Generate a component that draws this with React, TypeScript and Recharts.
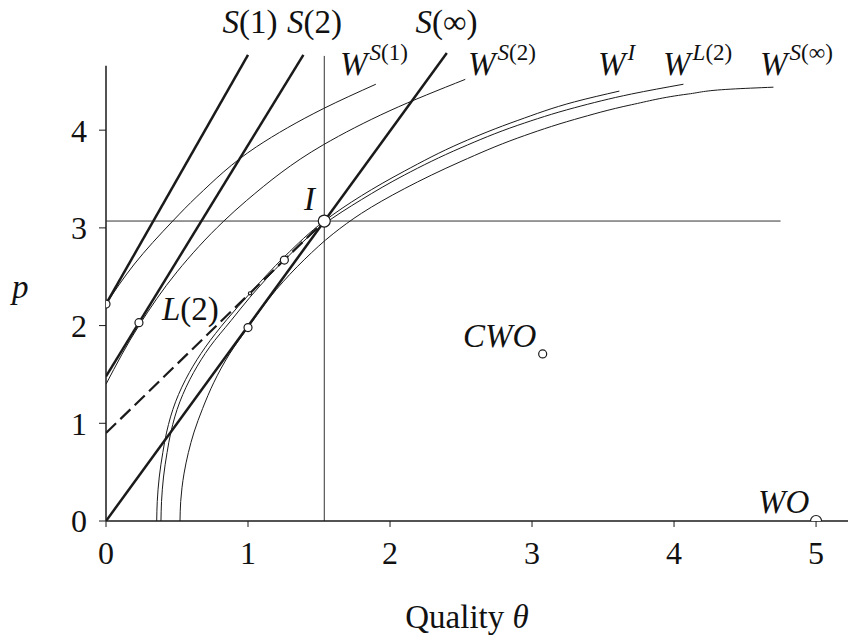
import React from "react";
import {
  ComposedChart,
  Line,
  Scatter,
  XAxis,
  YAxis,
  ReferenceLine,
  ReferenceDot,
} from "recharts";

const FONT = "'Liberation Serif', 'Times New Roman', serif";
const INK = "#1a1a1a";

// axis ticks
const THETA_TICKS = [0, 1, 2, 3, 4, 5];
const P_TICKS = [0, 1, 2, 3, 4];

// straight schedules
const S1 = [{ x: 0, y: 2.22 }, { x: 1.0, y: 4.77 }];
const S2 = [{ x: 0, y: 1.48 }, { x: 1.39, y: 4.77 }];
const S_INF = [{ x: 0, y: 0 }, { x: 2.4, y: 4.79 }];
const L2 = [{ x: 0, y: 0.9 }, { x: 1.537, y: 3.07 }];

// welfare / indifference curves
const W_S1 = [
  { x: 0, y: 2.22 }, { x: 0.2, y: 2.63 }, { x: 0.47, y: 3.07 }, { x: 0.64, y: 3.32 },
  { x: 1.06, y: 3.83 }, { x: 1.53, y: 4.22 }, { x: 1.9, y: 4.47 },
];
const W_S2 = [
  { x: 0, y: 1.4 }, { x: 0.232, y: 2.0 }, { x: 0.5, y: 2.55 }, { x: 0.83, y: 3.07 },
  { x: 0.99, y: 3.28 }, { x: 1.53, y: 3.85 }, { x: 2.0, y: 4.2 }, { x: 2.53, y: 4.52 },
];
const W_I = [
  { x: 0.357, y: 0 }, { x: 0.361, y: 0.2 }, { x: 0.375, y: 0.45 }, { x: 0.4, y: 0.7 },
  { x: 0.427, y: 0.91 }, { x: 0.49, y: 1.22 }, { x: 0.587, y: 1.52 }, { x: 0.7, y: 1.78 },
  { x: 0.85, y: 2.06 }, { x: 1.014, y: 2.33 }, { x: 1.26, y: 2.71 }, { x: 1.537, y: 3.07 },
  { x: 1.8, y: 3.33 }, { x: 2.1, y: 3.58 }, { x: 2.5, y: 3.87 }, { x: 2.9, y: 4.1 },
  { x: 3.3, y: 4.29 }, { x: 3.615, y: 4.4 },
];
const W_L2 = [
  { x: 0.387, y: 0 }, { x: 0.391, y: 0.2 }, { x: 0.405, y: 0.45 }, { x: 0.43, y: 0.7 },
  { x: 0.457, y: 0.91 }, { x: 0.52, y: 1.22 }, { x: 0.617, y: 1.52 }, { x: 0.73, y: 1.78 },
  { x: 0.88, y: 2.05 }, { x: 1.014, y: 2.29 }, { x: 1.256, y: 2.67 }, { x: 1.537, y: 3.04 },
  { x: 1.8, y: 3.29 }, { x: 2.1, y: 3.54 }, { x: 2.5, y: 3.82 }, { x: 2.9, y: 4.05 },
  { x: 3.3, y: 4.23 }, { x: 3.7, y: 4.37 }, { x: 4.066, y: 4.47 },
];
const W_SINF = [
  { x: 0.521, y: 0 }, { x: 0.526, y: 0.2 }, { x: 0.535, y: 0.34 }, { x: 0.55, y: 0.49 },
  { x: 0.58, y: 0.7 }, { x: 0.62, y: 0.91 }, { x: 0.68, y: 1.15 }, { x: 0.76, y: 1.42 },
  { x: 0.87, y: 1.71 }, { x: 1.0, y: 1.98 }, { x: 1.2, y: 2.37 }, { x: 1.4, y: 2.68 },
  { x: 1.6, y: 2.94 }, { x: 1.8, y: 3.15 }, { x: 2.1, y: 3.4 }, { x: 2.5, y: 3.68 },
  { x: 2.9, y: 3.92 }, { x: 3.3, y: 4.11 }, { x: 3.7, y: 4.26 }, { x: 4.1, y: 4.37 },
  { x: 4.4, y: 4.42 }, { x: 4.7, y: 4.44 },
];

// guide lines through I
const I_HORIZ = [{ x: 0, y: 3.07 }, { x: 4.75, y: 3.07 }];
const I_VERT = [{ x: 1.537, y: 0 }, { x: 1.537, y: 4.76 }];
const P_AXIS = [{ x: 0, y: 0 }, { x: 0, y: 4.66 }];

// marked points
const SMALL_POINTS = [
  { x: 0, y: 2.22 }, { x: 0.232, y: 2.03 }, { x: 1.0, y: 1.98 }, { x: 1.256, y: 2.67 },
  { x: 3.075, y: 1.71 },
];
const TINY_POINTS = [{ x: 1.014, y: 2.33 }];
const I_POINT = [{ x: 1.537, y: 3.07 }];
const WO_POINT = [{ x: 5.0, y: 0 }];

type Part = [string, boolean]; // text, italic
interface Lbl { x: number; y: number; main: Part[]; sup?: Part[] }

const LABELS: Lbl[] = [
  { x: 0.82, y: 4.995, main: [["S", true], ["(1)", false]] },
  { x: 1.275, y: 4.995, main: [["S", true], ["(2)", false]] },
  { x: 2.18, y: 4.995, main: [["S", true], ["(∞)", false]] },
  { x: 1.648, y: 4.565, main: [["W", true]], sup: [["S", true], ["(1)", false]] },
  { x: 2.549, y: 4.565, main: [["W", true]], sup: [["S", true], ["(2)", false]] },
  { x: 3.465, y: 4.565, main: [["W", true]], sup: [["I", true]] },
  { x: 3.923, y: 4.565, main: [["W", true]], sup: [["L", true], ["(2)", false]] },
  { x: 4.606, y: 4.565, main: [["W", true]], sup: [["S", true], ["(∞)", false]] },
  { x: 1.394, y: 3.183, main: [["I", true]] },
  { x: 0.394, y: 2.057, main: [["L", true], ["(2)", false]] },
  { x: 2.514, y: 1.781, main: [["CWO", true]] },
  { x: 4.592, y: 0.082, main: [["WO", true]] },
];

const circle = (r: number) => (props: any) => (
  <circle cx={props.cx} cy={props.cy} r={r} fill="#fff" stroke={INK} strokeWidth={1.2} />
);

const labelShape = (l: Lbl) => (props: any) => (
  <text x={props.cx} y={props.cy} fontFamily={FONT} fontSize={33} fill="#111">
    {l.main.map(([t, it], i) => (
      <tspan key={i} fontStyle={it ? "italic" : "normal"}>{t}</tspan>
    ))}
    {l.sup &&
      l.sup.map(([t, it], i) => (
        <tspan key={"s" + i} fontSize={23} dy={i === 0 ? -15 : 0} dx={i === 0 ? 2 : 0} fontStyle={it ? "italic" : "normal"}>
          {t}
        </tspan>
      ))}
  </text>
);

const curve = (data: { x: number; y: number }[], key: string) => (
  <Line
    key={key}
    data={data}
    dataKey="y"
    type="monotoneY"
    stroke={INK}
    strokeWidth={1}
    dot={false}
    activeDot={false}
    isAnimationActive={false}
  />
);

export default function App() {
  return (
    <div style={{ position: "absolute", left: 0, top: 0, background: "#fff" }}>
      <ComposedChart width={848} height={640} margin={{ top: 52, right: 0, bottom: 0, left: 0 }}>
        <XAxis
          type="number"
          dataKey="x"
          domain={[0, 5.225]}
          ticks={THETA_TICKS}
          interval={0}
          allowDataOverflow
          height={119}
          tickSize={6}
          tickMargin={14}
          axisLine={{ stroke: INK, strokeWidth: 1.5 }}
          tickLine={{ stroke: INK }}
          tick={{ fontSize: 32, fill: "#111", fontFamily: FONT }}
          label={{
            content: (props: any) => {
              const vb = props.viewBox;
              return (
                <text x={vb.x + vb.width / 2 - 10} y={628} textAnchor="middle" fontFamily={FONT} fontSize={33} fill="#111">
                  Quality <tspan fontStyle="italic">θ</tspan>
                </text>
              );
            },
          }}
        />
        <YAxis
          type="number"
          dataKey="y"
          domain={[0, 4.8]}
          ticks={P_TICKS}
          interval={0}
          allowDataOverflow
          width={106}
          axisLine={false}
          tickSize={7}
          tickMargin={12}
          tickLine={{ stroke: INK }}
          tick={{ fontSize: 32, fill: "#111", fontFamily: FONT }}
          label={{
            content: (props: any) => {
              const vb = props.viewBox;
              return (
                <text x={vb.x + 12} y={298} fontFamily={FONT} fontSize={33} fontStyle="italic" fill="#111">
                  p
                </text>
              );
            },
          }}
        />

        <ReferenceLine segment={P_AXIS} stroke={INK} strokeWidth={1.5} ifOverflow="visible" />
        <ReferenceLine segment={I_HORIZ} stroke="#333" strokeWidth={1} ifOverflow="visible" />
        <ReferenceLine segment={I_VERT} stroke="#333" strokeWidth={1} ifOverflow="visible" />

        {curve(W_S1, "ws1")}
        {curve(W_S2, "ws2")}
        {curve(W_I, "wi")}
        {curve(W_L2, "wl2")}
        {curve(W_SINF, "wsinf")}

        <Line data={S1} dataKey="y" type="linear" stroke={INK} strokeWidth={2.5} dot={false} activeDot={false} isAnimationActive={false} />
        <Line data={S2} dataKey="y" type="linear" stroke={INK} strokeWidth={2.5} dot={false} activeDot={false} isAnimationActive={false} />
        <Line data={S_INF} dataKey="y" type="linear" stroke={INK} strokeWidth={2.5} dot={false} activeDot={false} isAnimationActive={false} />
        <Line data={L2} dataKey="y" type="linear" stroke={INK} strokeWidth={2.2} strokeDasharray="14 6" dot={false} activeDot={false} isAnimationActive={false} />

        <Scatter data={TINY_POINTS} dataKey="y" shape={circle(1.6)} isAnimationActive={false} />
        <Scatter data={SMALL_POINTS} dataKey="y" shape={circle(4)} isAnimationActive={false} />
        <Scatter data={I_POINT} dataKey="y" shape={circle(6)} isAnimationActive={false} />
        <Scatter data={WO_POINT} dataKey="y" shape={circle(5.5)} isAnimationActive={false} />

        {LABELS.map((l, i) => (
          <ReferenceDot key={i} x={l.x} y={l.y} r={0} ifOverflow="visible" shape={labelShape(l)} />
        ))}
      </ComposedChart>
    </div>
  );
}
